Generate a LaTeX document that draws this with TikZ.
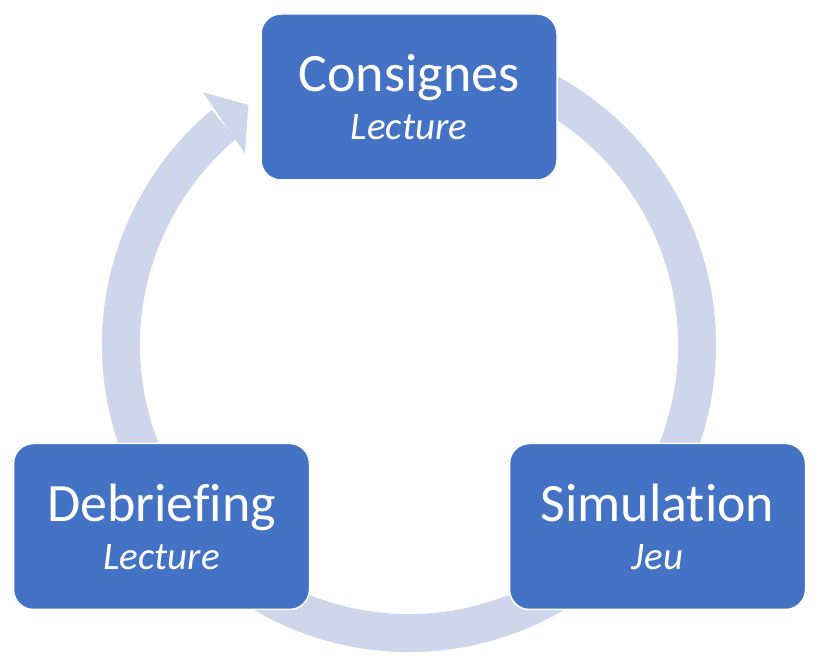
\documentclass[tikz,border=0pt]{standalone}
\usepackage{fontspec}
\setmainfont[Ligatures={NoCommon}]{Carlito}
\usepackage{tikz}
\usetikzlibrary{calc}
\definecolor{boxblue}{HTML}{4472C4}
\definecolor{ringgray}{HTML}{CFD5EA}

\begin{document}
\begin{tikzpicture}[x=1pt,y=1pt,
		phase/.style={fill=boxblue,draw=white,line width=1.5pt,rounded corners=20pt,
			minimum width=296pt,minimum height=166pt,text=white,align=center,
			font=\fontsize{39}{48}\selectfont},
		ring/.style={ringgray,line width=38pt}]
		\useasboundingbox (0,0) rectangle (820,662);
		\coordinate (hub) at (409,317);
		% cycle arrow
		\draw[ring] ([shift={(70:288)}]hub) arc[start angle=70,end angle=-230,radius=288];
		\fill[ringgray] ([shift={(130.6:252)}]hub) -- ([shift={(123.8:289)}]hub)
		-- ([shift={(129.2:326)}]hub) -- cycle;
		% phases
		\node[phase] (consignes) at (409,565) {{\fontsize{54}{54}\selectfont Consignes}\\\textit{Lecture}};
		\node[phase] (debrief) at (161.5,135.5) {{\fontsize{54}{54}\selectfont Debriefing}\\\textit{Lecture}};
		\node[phase] (simul) at (657.5,135.5) {{\fontsize{54}{54}\selectfont Simulation}\\\textit{Jeu}};
	\end{tikzpicture}
\end{document}
